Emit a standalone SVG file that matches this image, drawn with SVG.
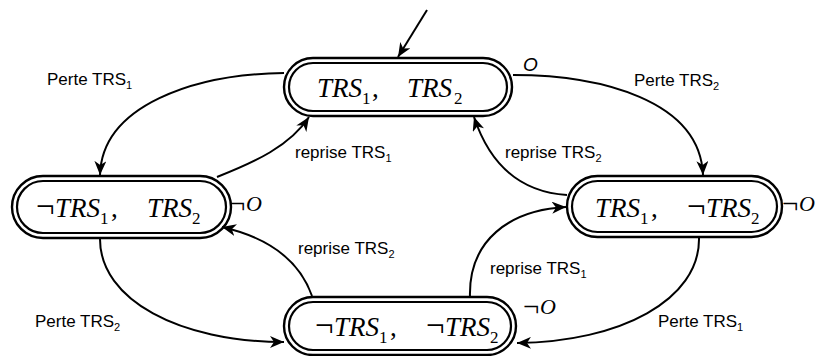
<svg xmlns="http://www.w3.org/2000/svg" width="818" height="356" viewBox="0 0 818 356">
<style>
.o{fill:none;stroke:#000;stroke-width:2.4}
.i{fill:#fff;stroke:#000;stroke-width:2.2}
.v{font-family:"Liberation Serif","Times New Roman",serif;font-style:italic;font-size:27px;fill:#000}
.s{font-family:"Liberation Serif","Times New Roman",serif;font-size:17px;fill:#000}
.c{font-family:"Liberation Serif","Times New Roman",serif;font-size:27px;fill:#000}
.g{font-family:"Liberation Serif","Times New Roman",serif;font-size:33px;fill:#000}
.n{font-family:"Liberation Serif","Times New Roman",serif;font-size:29px;fill:#000}
.no{font-family:"Liberation Serif","Times New Roman",serif;font-style:italic;font-size:22px;fill:#000}
.l{font-family:"Liberation Sans",Arial,sans-serif;font-size:17px;fill:#000}
.e{fill:none;stroke:#000;stroke-width:2}
</style>
<defs>
<marker id="ah" markerUnits="userSpaceOnUse" markerWidth="15" markerHeight="12" refX="14" refY="6" orient="auto" viewBox="0 0 15 12">
<path d="M0,0 L14,6 L0,12 L4,6 z" fill="#000"/>
</marker>
</defs>

<g id="edges">
<path class="e" d="M427,10 L398,57" marker-end="url(#ah)"/>
<path class="e" d="M284,73 C195,74 102,105 100,175" marker-end="url(#ah)"/>
<path class="e" d="M217,177 C255,162 290,146 309,117" marker-end="url(#ah)"/>
<path class="e" d="M513,75 C600,75 700,100 703,175" marker-end="url(#ah)"/>
<path class="e" d="M567,195 C520,192 490,165 474,117" marker-end="url(#ah)"/>
<path class="e" d="M100,239 C100,300 180,342 284,342" marker-end="url(#ah)"/>
<path class="e" d="M312,296 C300,262 270,238 222,227" marker-end="url(#ah)"/>
<path class="e" d="M470,298 C468,240 510,210 566,207" marker-end="url(#ah)"/>
<path class="e" d="M699,238 C700,300 620,342 517,343" marker-end="url(#ah)"/>
</g>

<g id="node-top">
<rect class="o" x="284" y="58" width="228" height="58" rx="29"/>
<rect class="i" x="289" y="63" width="218" height="48" rx="24"/>
<text class="v" x="317" y="97">TRS</text>
<text class="s" x="362" y="104">1</text>
<text class="c" x="372" y="97">,</text>
<text class="v" x="407" y="97">TRS</text>
<text class="s" x="454" y="104">2</text>
</g>

<g id="node-left">
<rect class="o" x="12" y="176" width="219" height="62" rx="31"/>
<rect class="i" x="17" y="181" width="209" height="52" rx="26"/>
<text class="g" x="36" y="217">¬</text>
<text class="v" x="55" y="217">TRS</text>
<text class="s" x="100" y="224">1</text>
<text class="c" x="111" y="217">,</text>
<text class="v" x="147" y="217">TRS</text>
<text class="s" x="192" y="224">2</text>
</g>

<g id="node-right">
<rect class="o" x="567" y="176" width="215" height="61" rx="30.5"/>
<rect class="i" x="572" y="181" width="205" height="51" rx="25.5"/>
<text class="v" x="595" y="217">TRS</text>
<text class="s" x="640" y="224">1</text>
<text class="c" x="651" y="217">,</text>
<text class="g" x="687" y="217">¬</text>
<text class="v" x="706" y="217">TRS</text>
<text class="s" x="751" y="224">2</text>
</g>

<g id="node-bottom">
<rect class="o" x="284" y="297" width="232" height="58" rx="29"/>
<rect class="i" x="289" y="302" width="222" height="48" rx="24"/>
<text class="g" x="315" y="336">¬</text>
<text class="v" x="334" y="336">TRS</text>
<text class="s" x="379" y="343">1</text>
<text class="c" x="390" y="336">,</text>
<text class="g" x="426" y="336">¬</text>
<text class="v" x="445" y="336">TRS</text>
<text class="s" x="490" y="343">2</text>
</g>

<g id="labels">
<text x="523" y="71" style="font-family:'Liberation Sans',Arial,sans-serif;font-style:italic;font-size:19px">O</text>
<text class="n" x="229" y="213">¬</text><text class="no" x="246" y="211">O</text>
<text class="n" x="782" y="213">¬</text><text class="no" x="799" y="211">O</text>
<text class="n" x="523" y="316">¬</text><text class="no" x="540" y="314">O</text>

<text class="l" x="47" y="85">Perte TRS<tspan font-size="11" dy="4">1</tspan></text>
<text class="l" x="634" y="86">Perte TRS<tspan font-size="11" dy="4">2</tspan></text>
<text class="l" x="295" y="158">reprise TRS<tspan font-size="11" dy="4">1</tspan></text>
<text class="l" x="505" y="158">reprise TRS<tspan font-size="11" dy="4">2</tspan></text>
<text class="l" x="298" y="254">reprise TRS<tspan font-size="11" dy="4">2</tspan></text>
<text class="l" x="490" y="274">reprise TRS<tspan font-size="11" dy="4">1</tspan></text>
<text class="l" x="35" y="327">Perte TRS<tspan font-size="11" dy="4">2</tspan></text>
<text class="l" x="658" y="327">Perte TRS<tspan font-size="11" dy="4">1</tspan></text>
</g>
</svg>
